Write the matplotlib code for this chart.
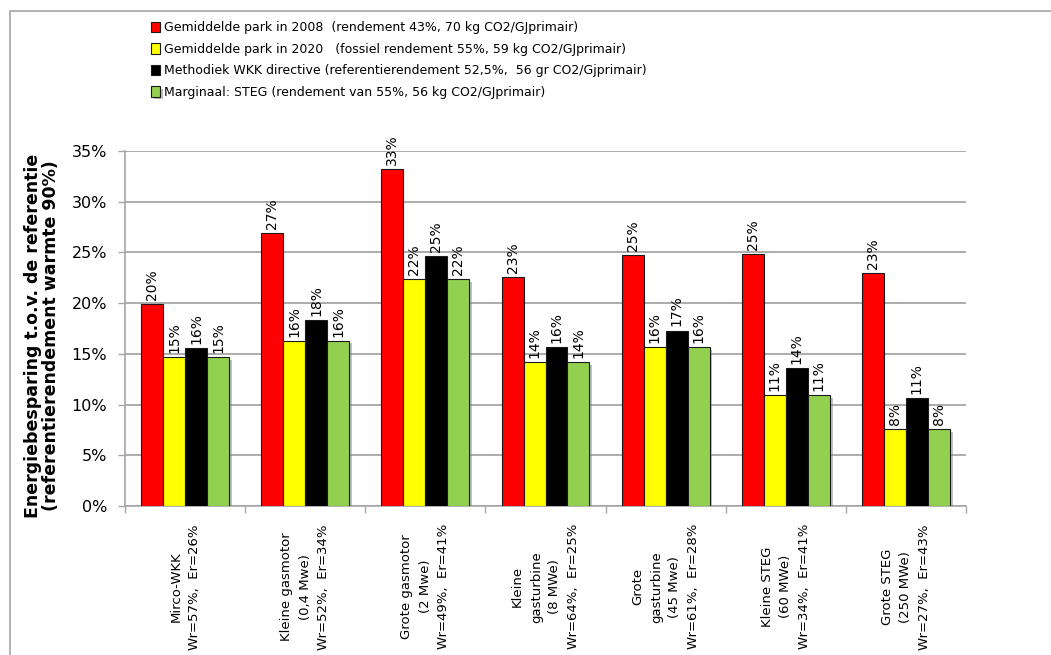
import numpy as np
import matplotlib
matplotlib.use("Agg")
import matplotlib.pyplot as plt
from matplotlib.patches import Rectangle
import matplotlib.patheffects as pe

# Categorieën (WKK-technologieën)
categories = [
    "Mirco-WKK\nWr=57%,  Er=26%",
    "Kleine gasmotor\n(0,4 Mwe)\nWr=52%,  Er=34%",
    "Grote gasmotor\n(2 Mwe)\nWr=49%,  Er=41%",
    "Kleine\ngasturbine\n(8 MWe)\nWr=64%,  Er=25%",
    "Grote\ngasturbine\n(45 Mwe)\nWr=61%,  Er=28%",
    "Kleine STEG\n(60 MWe)\nWr=34%,  Er=41%",
    "Grote STEG\n(250 MWe)\nWr=27%,  Er=43%",
]

# Energiebesparing per referentie (fractie)
park_2008 = [0.199, 0.269, 0.332, 0.226, 0.2475, 0.2485, 0.230]
park_2020 = [0.147, 0.163, 0.224, 0.142, 0.1565, 0.109, 0.076]
wkk_directive = [0.156, 0.183, 0.246, 0.157, 0.173, 0.136, 0.106]
marginaal_steg = [0.147, 0.163, 0.224, 0.142, 0.1565, 0.109, 0.076]

series_labels = [
    "Gemiddelde park in 2008  (rendement 43%, 70 kg CO2/GJprimair)",
    "Gemiddelde park in 2020   (fossiel rendement 55%, 59 kg CO2/GJprimair)",
    "Methodiek WKK directive (referentierendement 52,5%,  56 gr CO2/Gjprimair)",
    "Marginaal: STEG (rendement van 55%, 56 kg CO2/GJprimair)",
]
colors = ["#FF0000", "#FFFF00", "#000000", "#92D050"]

y_ticks = [0, 0.05, 0.10, 0.15, 0.20, 0.25, 0.30, 0.35]

plt.rcParams["font.family"] = "DejaVu Sans"

fig = plt.figure(figsize=(10.51, 6.55), dpi=100)
ax = fig.add_axes([125 / 1051, 1 - 506 / 655, (966 - 125) / 1051, (506 - 151) / 655])

# kader rond de grafiek
fig.patches.append(Rectangle((10 / 1051, -0.2), 1.5, 1 - 11 / 655 + 0.2,
                             transform=fig.transFigure, fill=False,
                             edgecolor="#a6a6a6", linewidth=1.2, zorder=0))

x = np.arange(len(categories))
w = 0.183
data = [park_2008, park_2020, wkk_directive, marginaal_steg]
handles = []
for i, (vals, col, lab) in enumerate(zip(data, colors, series_labels)):
    pos = x + (i - 1.5) * w
    bars = ax.bar(pos, vals, width=w, color=col, edgecolor="#1a1a1a",
                  linewidth=0.8, zorder=3, label=lab)
    if i == 3:
        for b in bars:
            b.set_path_effects([pe.SimplePatchShadow(offset=(2, -2), shadow_rgbFace="#808080", alpha=0.5),
                                pe.Normal()])
    handles.append(bars)
    for px, v in zip(pos, vals):
        ax.annotate(f"{round(v * 100):.0f}%", (px, v), xytext=(0, 3),
                    textcoords="offset points", rotation=90, ha="center",
                    va="bottom", fontsize=10, zorder=4)

ax.set_xlim(-0.5, len(categories) - 0.5)
ax.set_ylim(0, 0.35)
ax.set_yticks(y_ticks)
ax.set_yticklabels([f"{round(t * 100)}%" for t in y_ticks], fontsize=11.5)
ax.yaxis.grid(True, color="#a6a6a6", linewidth=1.3, zorder=0)
ax.set_axisbelow(True)

ax.set_xticks(x)
ax.set_xticklabels(categories, rotation=90, ha="center", va="top",
                   multialignment="center", fontsize=9.5, linespacing=1.55)
ax.set_xticks(np.arange(-0.5, len(categories)), minor=True)
ax.tick_params(axis="x", which="major", length=0, pad=13)
ax.tick_params(axis="x", which="minor", length=5, color="#a6a6a6", width=1)
ax.tick_params(axis="y", length=5, color="#a6a6a6", width=1, pad=8)

for s in ["top", "right"]:
    ax.spines[s].set_visible(False)
for s in ["left", "bottom"]:
    ax.spines[s].set_color("#a6a6a6")
    ax.spines[s].set_linewidth(1.2)

fig.text(42 / 1051, 1 - 336 / 655,
         "Energiebesparing t.o.v. de referentie\n(referentierendement warmte 90%)",
         rotation=90, ha="center", va="center", multialignment="center",
         fontsize=12.5, fontweight="bold", linespacing=1.0)

fig.legend(handles=handles, loc="upper left", bbox_to_anchor=(140 / 1051, 1 - 10 / 655),
           frameon=False, prop={"size": 9},
           handlelength=0.7, handleheight=0.9, handletextpad=0.3, labelspacing=0.68)

fig.savefig("out.png", dpi=100)
